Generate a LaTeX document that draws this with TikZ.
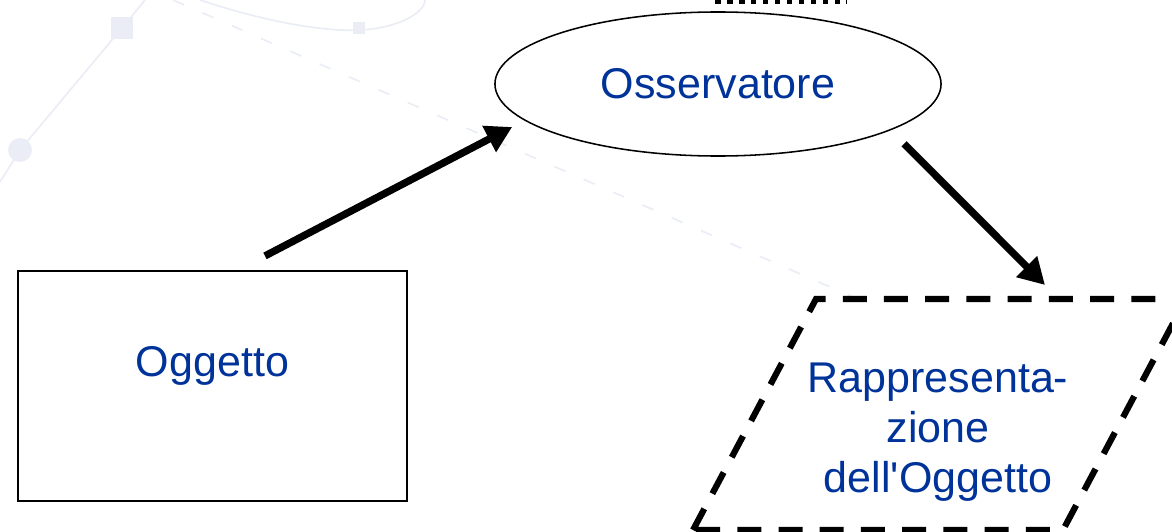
\documentclass[tikz,border=0pt]{standalone}
\usepackage{fontspec}
\setmainfont{Liberation Sans}
\usetikzlibrary{shapes.geometric,arrows.meta}
\definecolor{txtblue}{RGB}{0,51,153}
\definecolor{wmark}{RGB}{234,237,245}
\tikzset{
    lbl/.style = {text = txtblue, font = \fontsize{30.6}{35.6}\selectfont, align = center},
    objbox/.style = {draw, line width = 1.5pt, minimum width = 9.725cm, minimum height = 5.75cm, inner sep = 0pt},
    viewer/.style = {draw, ellipse, line width = 1.1pt, minimum width = 11.15cm, minimum height = 3.6cm, inner sep = 0pt},
    flow/.style = {line width = 5.2pt, -{Triangle[length = 0.65cm, width = 0.7cm]}},
    repedge/.style = {line width = 4.4pt, dash pattern = on 0.6cm off 0.43cm}
}
\begin{document}
\begin{tikzpicture}[x = 0.025cm, y = -0.025cm]
    \useasboundingbox (0,0) rectangle (1172,532);
    % faint background
    \begin{scope}[wmark, line width = 1.2pt]
        \draw (0,182) -- (20,150) -- (122,28) -- (145,0);
        \fill (20,150) circle (12);
        \fill (111,17) rectangle (133,39);
        \draw [dash pattern = on 0.3cm off 0.5cm] (173,0) -- (860,300);
        \draw (200,0) .. controls (260,20) and (320,32) .. (360,30) .. controls (400,28) and (425,12) .. (425,0);
        \fill (353,22) rectangle (365,34);
    \end{scope}
    \draw [line width = 3pt, dash pattern = on 4pt off 4.5pt] (715,1.5) -- (847,1.5);
    % nodes
    \node [viewer, lbl] (oss) at (718,84) {Osservatore};
    \node [objbox, lbl, text depth = 1.22cm] (ogg) at (212.5,386) {Oggetto};
    \coordinate (p1) at (816,299);
    \coordinate (p2) at (1186,299);
    \coordinate (p3) at (1063,530);
    \coordinate (p4) at (693,530);
    \draw [repedge] (p4) -- (p1) -- (p2) -- (p3) -- cycle;
    \node [lbl] (rep) at (938,432) {Rappresenta-\\zione\\dell\textquotesingle Oggetto};
    % arrows
    \draw [flow] ([shift = {(52.5,-14)}]ogg.north) -- ([shift = {(18,43)}]oss.west);
    \draw [flow] ([shift = {(186,-13)}]oss.south) -- ([shift = {(229,-14)}]p1);
\end{tikzpicture}
\end{document}
